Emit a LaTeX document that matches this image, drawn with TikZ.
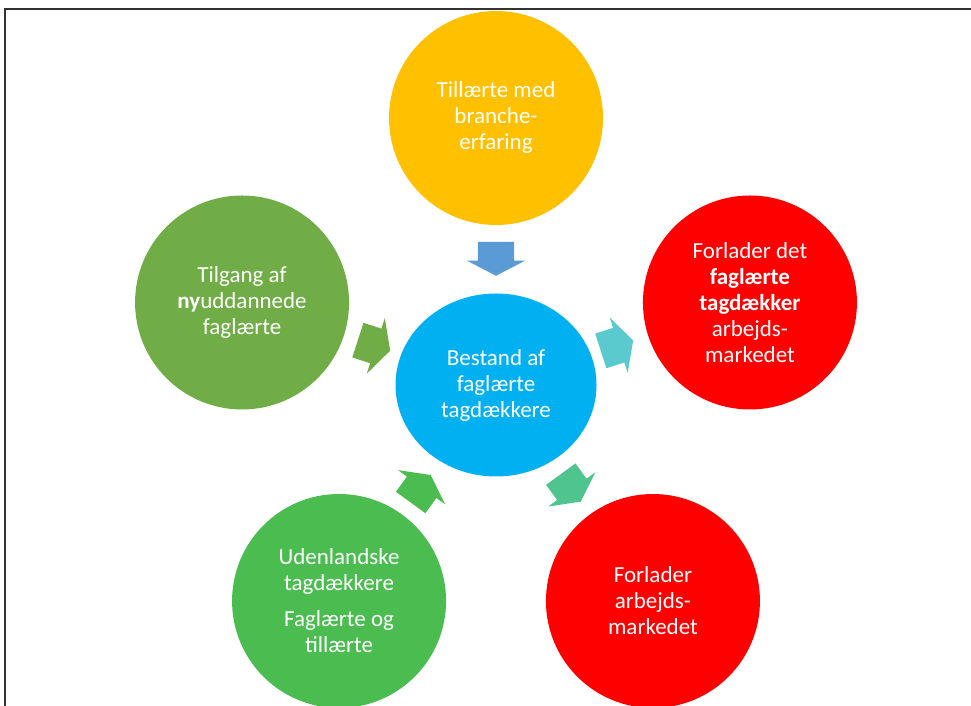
\documentclass[tikz,border=0pt]{standalone}
\usepackage{fontspec}
\setmainfont{Carlito}
\usepackage{xcolor}
\usepackage{tikz}
\usetikzlibrary{shapes.geometric,shapes.arrows}

\definecolor{tilgul}{HTML}{FFC000}
\definecolor{nygron}{HTML}{70AD47}
\definecolor{udgron}{HTML}{4BBC50}
\definecolor{forrod}{HTML}{FF0000}
\definecolor{bestblaa}{HTML}{00B0F0}
\definecolor{pilblaa}{HTML}{5B9BD5}
\definecolor{pilcyan}{HTML}{5BCACE}
\definecolor{pilmint}{HTML}{4FC48E}

\begin{document}
\begin{tikzpicture}[x=1pt,y=1pt,
	bubble/.style={circle, fill=#1, text=white, align=center, inner sep=0pt, minimum size=214pt},
	pil/.style={single arrow, fill=#1, draw=none, inner xsep=0pt, inner ysep=18pt, minimum height=34pt, single arrow head extend=11pt, single arrow tip angle=125}]
	\useasboundingbox (0,0) rectangle (971,706);
	\clip (0,0) rectangle (971,706);
	\fontsize{23}{26}\selectfont
	\draw[line width=2pt, black!80] (5,-10) |- (990,697);
	% midten
	\node[ellipse, fill=bestblaa, text=white, align=center, inner sep=0pt, minimum width=201pt, minimum height=183pt] (bestand) at (496,321) {Bestand af\\faglærte\\tagdækkere};
	% kredsen
	\node[bubble=tilgul] (tillaerte) at ([shift={(90:267)}]bestand) {Tillærte med\\branche-\\erfaring};
	\node[bubble=nygron] (nyudd) at ([shift={(162:267)}]bestand) {Tilgang af\\\textbf{ny}uddannede\\faglærte};
	\node[bubble=forrod] (forladerfag) at ([shift={(18:267)}]bestand) {Forlader det\\\textbf{faglærte}\\\textbf{tagdækker}\\arbejds-\\markedet};
	\node[bubble=udgron] (udland) at ([shift={(234:267)}]bestand) {Udenlandske\\tagdækkere\\[10pt]Faglærte og\\tillærte};
	\node[bubble=forrod] (forlader) at ([shift={(306:267)}]bestand) {Forlader\\arbejds-\\markedet};
	% pile
	\node[pil=pilblaa, rotate=270, anchor=tip] (p1) at ([shift={(90:109)}]bestand) {};
	\node[pil=nygron, rotate=342, anchor=tip] (p2) at ([shift={(162:111)}]bestand) {};
	\node[pil=udgron, rotate=54, anchor=tip] (p3) at ([shift={(234:111)}]bestand) {};
	\node[pil=pilcyan, rotate=18, anchor=tail] (p4) at ([shift={(18:110)}]bestand) {};
	\node[pil=pilmint, rotate=306, anchor=tail] (p5) at ([shift={(306:110)}]bestand) {};
\end{tikzpicture}
\end{document}
